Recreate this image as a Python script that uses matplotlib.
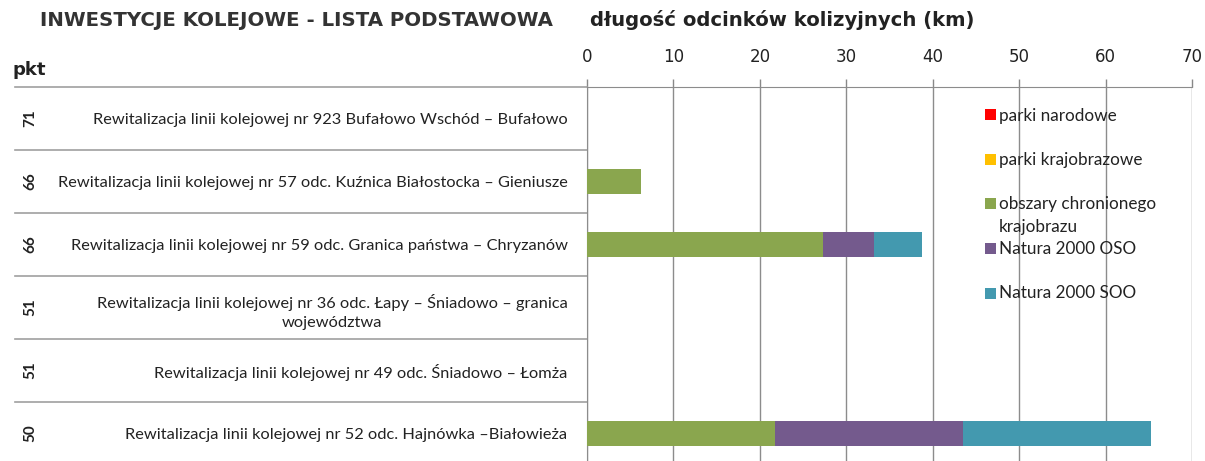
import matplotlib
matplotlib.use("Agg")
import matplotlib.pyplot as plt
import matplotlib.transforms as mtrans
from matplotlib.lines import Line2D
from matplotlib.patches import Rectangle
import numpy as np

# ---- data ----
pkt = ["71", "66", "66", "51", "51", "50"]
projects = [
    "Rewitalizacja linii kolejowej nr 923 Bufałowo Wschód – Bufałowo",
    "Rewitalizacja linii kolejowej nr 57 odc. Kuźnica Białostocka – Gieniusze",
    "Rewitalizacja linii kolejowej nr 59 odc. Granica państwa – Chryzanów",
    "Rewitalizacja linii kolejowej nr 36 odc. Łapy – Śniadowo – granica\nwojewództwa",
    "Rewitalizacja linii kolejowej nr 49 odc. Śniadowo – Łomża",
    "Rewitalizacja linii kolejowej nr 52 odc. Hajnówka –Białowieża",
]
series_names = ["parki narodowe", "parki krajobrazowe",
                "obszary chronionego\nkrajobrazu", "Natura 2000 OSO", "Natura 2000 SOO"]
parki_narodowe = [0, 0, 0, 0, 0, 0]
parki_krajobrazowe = [0, 0, 0, 0, 0, 0]
obszary_chr = [0, 6.3, 27.3, 0, 0, 21.7]
natura_oso = [0, 0, 5.9, 0, 0, 21.8]
natura_soo = [0, 0, 5.6, 0, 0, 21.8]
series = [parki_narodowe, parki_krajobrazowe, obszary_chr, natura_oso, natura_soo]
colors = ["#FF0000", "#FFC000", "#8AA64E", "#745A8D", "#4399AF"]

W, H = 1205, 461
fig = plt.figure(figsize=(W / 100, H / 100), dpi=100)
ax = fig.add_axes([587 / W, 1 - 465 / H, (1192 - 587) / W, (465 - 87) / H])

y = np.arange(len(projects))
left = np.zeros(len(projects))
for vals, col, name in zip(series, colors, series_names):
    ax.barh(y, vals, left=left, height=0.4, color=col, label=name, zorder=3)
    left += np.array(vals)

ax.set_xlim(0, 70)
ax.set_ylim(len(projects) - 0.5, -0.5)
ax.xaxis.tick_top()
ax.set_xticks(np.arange(0, 71, 10))
ax.tick_params(axis="x", direction="out", length=6, width=1, color="#888888",
               pad=9, labelsize=12, labelcolor="#222222")
ax.grid(axis="x", color="#8C8C8C", linewidth=1, zorder=0)
for s in ["right", "bottom"]:
    ax.spines[s].set_visible(False)
ax.spines["left"].set_color("#8C8C8C")
ax.spines["top"].set_color("#8C8C8C")

ax.set_yticks(y, labels=projects, fontfamily="Lato", fontsize=11.8,
              color="#222222", multialignment="center", linespacing=1.5)
ax.tick_params(axis="y", length=0, pad=14)

# separator lines extended to the left (multi-level category table)
tr = mtrans.blended_transform_factory(fig.transFigure, ax.transData)
for b in np.arange(-0.5, len(projects) - 0.5, 1.0):
    ax.add_line(Line2D([15 / W, 587 / W], [b, b], transform=tr, color="#A0A0A0",
                       linewidth=1.2, clip_on=False))

for i, p in enumerate(pkt):
    fig.text(30 / W, y[i], p, transform=tr, rotation=90, ha="center", va="center",
             fontsize=11, fontfamily="Lato", fontweight="bold", color="#222222")

fig.text(40 / W, 1 - 20 / H, "INWESTYCJE KOLEJOWE - LISTA PODSTAWOWA",
         fontsize=14.2, fontweight="bold", color="#333333", va="center", ha="left")
fig.text(590 / W, 1 - 20 / H, "długość odcinków kolizyjnych (km)",
         fontsize=14.1, fontweight="bold", color="#222222", va="center", ha="left")
fig.text(12 / W, 1 - 70 / H, "pkt", fontsize=13, fontweight="bold",
         color="#222222", va="center", ha="left")

# legend (Excel-style: evenly spaced entries, wrapped text spills downward)
leg_fs = 12.3
for i, (name, col) in enumerate(zip(series_names, colors)):
    cy = 115 + 44.5 * i
    fig.patches.append(Rectangle((985 / W, 1 - (cy + 5.5) / H), 11 / W, 11 / H,
                                 transform=fig.transFigure, facecolor=col,
                                 edgecolor="none", figure=fig))
    fig.text(999 / W, 1 - (cy - 7.5) / H, name, fontsize=leg_fs, fontfamily="Lato",
             color="#222222", va="top", ha="left", linespacing=1.5)

fig.savefig("out.png", dpi=100)
